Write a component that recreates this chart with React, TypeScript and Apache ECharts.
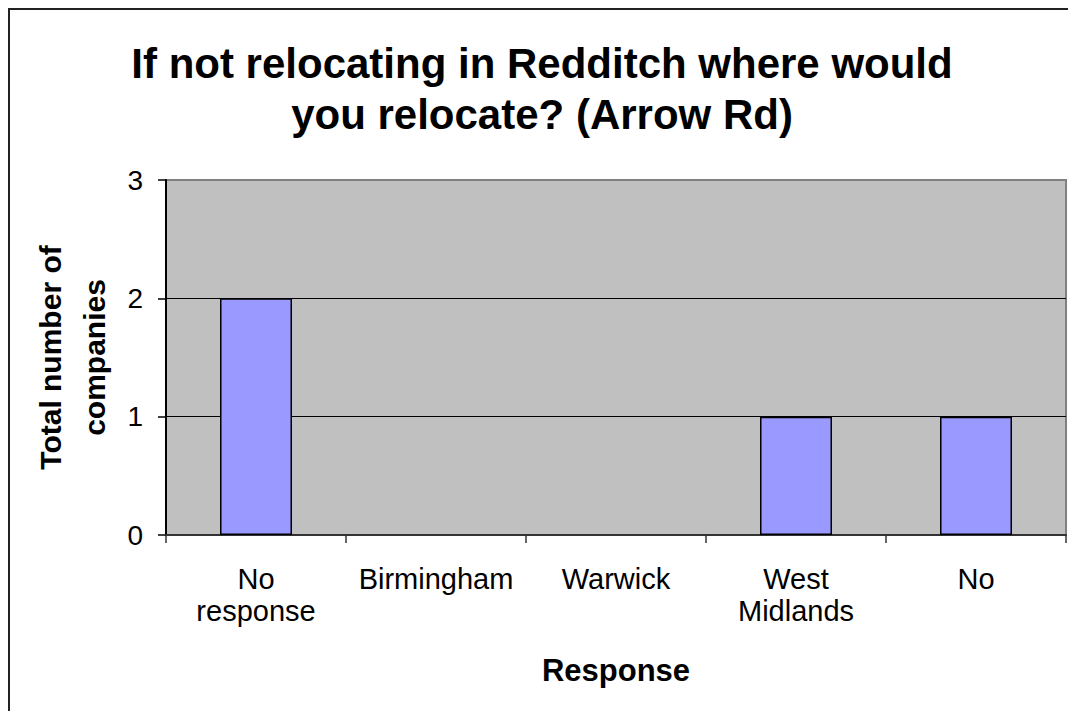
import React, { useEffect, useRef } from "react";
import * as echarts from "echarts";

const categories = ["No\nresponse", "Birmingham", "Warwick", "West\nMidlands", "No"];
const values = [2, 0, 0, 1, 1];
const titleText = "If not relocating in Redditch where would\nyou relocate? (Arrow Rd)";
const yAxisTitle = "Total number of\ncompanies";
const xAxisTitle = "Response";

export default function App() {
  const ref = useRef<HTMLDivElement>(null);
  useEffect(() => {
    const chart = echarts.init(ref.current!, null, { renderer: "svg" });
    chart.setOption({
      animation: false,
      backgroundColor: "#ffffff",
      textStyle: { fontFamily: "Arial, 'Liberation Sans', sans-serif" },
      title: {
        text: titleText,
        left: "center",
        top: 25,
        textStyle: { fontSize: 42, fontWeight: "bold", color: "#000", lineHeight: 51 },
      },
      graphic: [
        { type: "line", shape: { x1: 0, y1: 1, x2: 1068, y2: 1 }, style: { stroke: "#222", lineWidth: 2 } },
        { type: "line", shape: { x1: 1, y1: 0, x2: 1, y2: 703 }, style: { stroke: "#222", lineWidth: 2 } },
      ],
      grid: {
        left: 158,
        top: 172,
        right: 10,
        bottom: 176,
        show: true,
        backgroundColor: "#C0C0C0",
        borderColor: "#808080",
        borderWidth: 2,
      },
      xAxis: {
        type: "category",
        data: categories,
        name: xAxisTitle,
        nameLocation: "middle",
        nameGap: 119,
        nameTextStyle: { fontSize: 31, fontWeight: "bold", color: "#000", lineHeight: 32 },
        axisLine: { show: true, lineStyle: { color: "#333", width: 2 } },
        axisTick: { show: true, length: 8, lineStyle: { color: "#333", width: 1.5 } },
        axisLabel: { fontSize: 29, color: "#000", lineHeight: 32, margin: 28, interval: 0 },
      },
      yAxis: {
        type: "value",
        min: 0,
        max: 3,
        interval: 1,
        name: yAxisTitle,
        nameLocation: "middle",
        nameGap: 49,
        nameTextStyle: { fontSize: 30, fontWeight: "bold", color: "#000", lineHeight: 44 },
        axisLine: { show: true, lineStyle: { color: "#000", width: 2 } },
        axisTick: { show: true, length: 8, lineStyle: { color: "#000", width: 1.5 } },
        axisLabel: { fontSize: 28, color: "#000", margin: 23 },
        splitLine: { show: true, lineStyle: { color: ["#000", "#000", "#000", "#808080"], width: 1 } },
      },
      series: [
        {
          type: "bar",
          data: values.map((v) => (v === 0 ? { value: v, itemStyle: { borderWidth: 0 } } : v)),
          barWidth: "40%",
          itemStyle: { color: "#9999FF", borderColor: "#000", borderWidth: 1.5 },
        },
      ],
    });
    return () => chart.dispose();
  }, []);
  return <div ref={ref} style={{ width: 1068, height: 703 }} />;
}
